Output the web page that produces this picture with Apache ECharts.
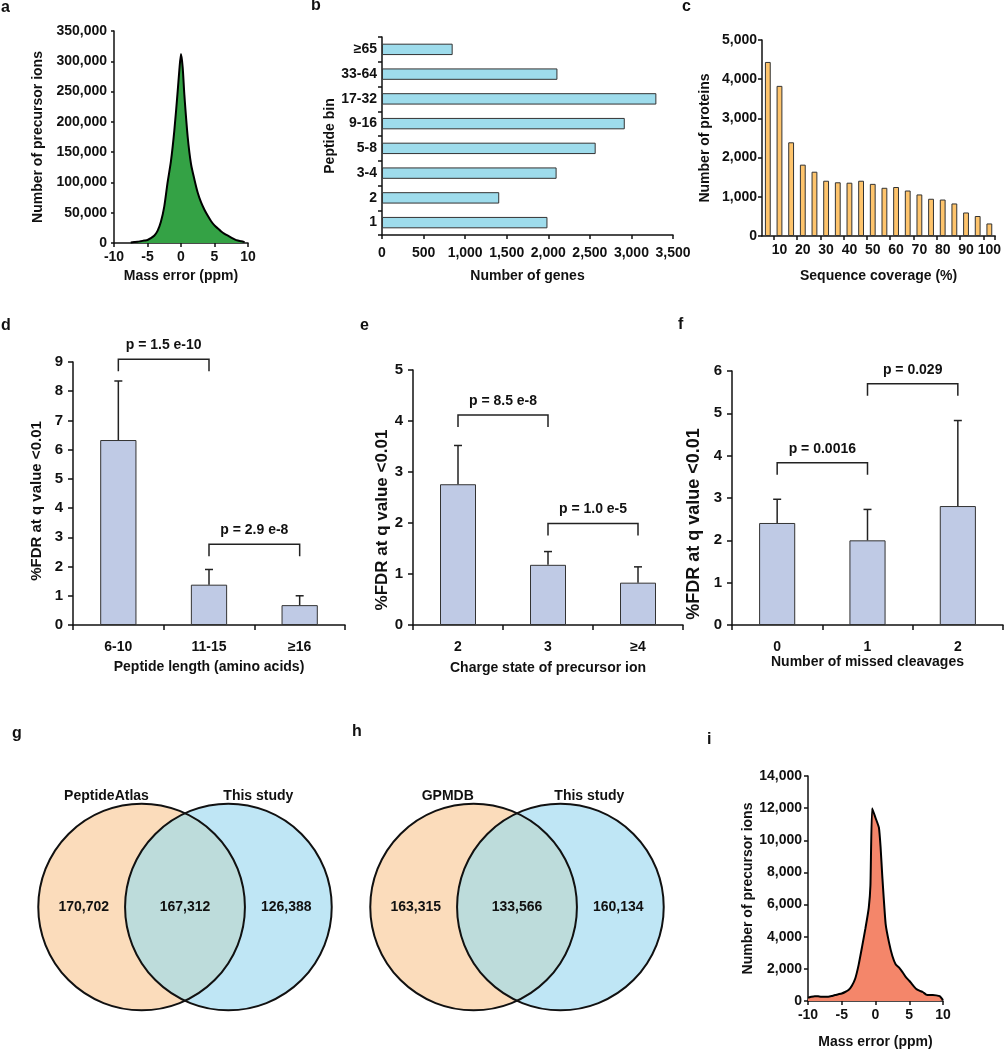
<!DOCTYPE html>
<html><head><meta charset="utf-8">
<script src="https://cdn.jsdelivr.net/npm/echarts@6/dist/echarts.min.js"></script>
<style>html,body{margin:0;padding:0;background:#fff}#c{width:1004px;height:1050px}</style>
</head><body><div id="c"></div>
<script>
// ---- panel a: mass error distribution ----
const aX = [-7.5,-7,-6.5,-6,-5.5,-5,-4.5,-4,-3.5,-3,-2.5,-2,-1.5,-1,-0.5,-0.25,0,0.25,0.5,1,1.5,2,2.5,3,3.5,4,4.5,5,5.5,6,6.5,7,7.5,8,8.5,9,9.5];
const aY = [1000,1500,2000,3000,4000,5000,8000,12000,20000,35000,60000,100000,135000,185000,250000,285000,312000,290000,245000,175000,130000,105000,83000,67000,55000,45000,36000,29000,24000,19000,15000,12000,9000,6000,4000,3000,1500];
// ---- panel b ----
const bCats = ['1','2','3-4','5-8','9-16','17-32','33-64','≥65'];
const bVals = [1990,1410,2100,2570,2920,3300,2110,850];
// ---- panel c ----
const cCats = ['5','10','15','20','25','30','35','40','45','50','55','60','65','70','75','80','85','90','95','100'];
const cVals = [4440,3830,2390,1820,1640,1410,1370,1360,1410,1330,1230,1250,1160,1060,950,930,830,600,510,320];
// ---- panels d, e, f ----
const dCats = ['6-10','11-15','≥16'];
const dVals = [6.33,1.38,0.68];
const dSd = [2.02,0.52,0.32];
const dBrackets = [[0,1,9.09,'p = 1.5 e-10'],[1,2,2.76,'p = 2.9 e-8']];
const eCats = ['2','3','≥4'];
const eVals = [2.76,1.18,0.83];
const eSd = [0.76,0.26,0.31];
const eBrackets = [[0,1,4.12,'p = 8.5 e-8'],[1,2,1.99,'p = 1.0 e-5']];
const fCats = ['0','1','2'];
const fVals = [2.41,2.0,2.81];
const fSd = [0.56,0.73,2.02];
const fBrackets = [[0,1,3.83,'p = 0.0016'],[1,2,5.70,'p = 0.029']];
// ---- panels g, h: Venn ----
const gSets = ['PeptideAtlas','This study'];
const gCounts = [170702,167312,126388];
const hSets = ['GPMDB','This study'];
const hCounts = [163315,133566,160134];
// ---- panel i ----
const iX = [-10,-9.5,-9,-8.5,-8,-7.5,-7,-6.5,-6,-5.5,-5,-4.5,-4,-3.5,-3,-2.5,-2,-1.5,-1,-0.75,-0.5,0,0.5,0.75,1,1.5,2,2.5,3,3.5,4,4.5,5,5.5,6,6.5,7,7.5,8,8.5,9,9.5,10];
const iY = [200,260,300,290,270,270,270,310,370,420,470,560,680,950,1400,2250,3350,4500,5800,7200,12000,11400,10800,9600,7800,4800,3650,2800,2270,2080,1800,1480,1260,1000,760,640,560,400,370,370,350,300,60];

const FONT = '"Liberation Sans", Arial, Helvetica, sans-serif';
const INK = '#111';
const fmt = v => Number(v).toLocaleString('en-US');
function lab(extra){ return Object.assign({color:INK,fontWeight:'bold',fontFamily:FONT,fontSize:14}, extra||{}); }
function axLine(){ return {show:true,onZero:false,lineStyle:{color:INK,width:1.5}}; }
function axTick(len){ return {show:true,length:len||4,lineStyle:{color:INK,width:1.5}}; }

const chart = echarts.init(document.getElementById('c'), null, {renderer:'canvas'});

const grids = [
  {left:114, top:31, width:134, height:212},   // a
  {left:382, top:37, width:291, height:198},   // b
  {left:762, top:40, width:234, height:196},   // c
  {left:73, top:362, width:272, height:263},   // d
  {left:413, top:370, width:270, height:255},  // e
  {left:732, top:371, width:271, height:254},  // f
  {left:30, top:764, width:310, height:310},   // g
  {left:362, top:764, width:310, height:310},  // h
  {left:808, top:776, width:135, height:225}   // i
];

function valueX(gi, min, max, interval, extra){
  return Object.assign({type:'value', gridIndex:gi, min, max, interval, splitLine:{show:false},
    axisLine:axLine(), axisTick:axTick(4), axisLabel:lab({margin:7})}, extra||{});
}
function valueY(gi, min, max, interval, extra){
  return Object.assign({type:'value', gridIndex:gi, min, max, interval, splitLine:{show:false},
    axisLine:axLine(), axisTick:axTick(4), axisLabel:lab({margin:7})}, extra||{});
}
const hiddenAx = gi => ({type:'value', gridIndex:gi, min:-1.5, max:1.5, show:false});

const xAxes = [
  valueX(0,-10,10,5,{name:'Mass error (ppm)',nameLocation:'middle',nameGap:26,nameTextStyle:lab()}),
  valueX(1,0,3500,500,{axisLabel:lab({margin:11,formatter:fmt}),name:'Number of genes',nameLocation:'middle',nameGap:34,nameTextStyle:lab()}),
  {type:'category',gridIndex:2,data:cCats,axisLine:axLine(),axisTick:{show:true,length:4,interval:(i)=>i%2===1,lineStyle:{color:INK,width:1.5}},
    axisLabel:lab({margin:7,interval:(i)=>i%2===1}),name:'Sequence coverage (%)',nameLocation:'middle',nameGap:33,nameTextStyle:lab()},
  {type:'category',gridIndex:3,data:dCats,axisLine:axLine(),axisTick:axTick(5),axisLabel:lab({margin:15}),
    name:'Peptide length (amino acids)',nameLocation:'middle',nameGap:35,nameTextStyle:lab()},
  {type:'category',gridIndex:4,data:eCats,axisLine:axLine(),axisTick:axTick(5),axisLabel:lab({margin:15}),
    name:'Charge state of precursor ion',nameLocation:'middle',nameGap:36,nameTextStyle:lab()},
  {type:'category',gridIndex:5,data:fCats,axisLine:axLine(),axisTick:axTick(5),axisLabel:lab({margin:15}),
    name:'Number of missed cleavages',nameLocation:'middle',nameGap:29,nameTextStyle:lab()},
  hiddenAx(6), hiddenAx(7),
  valueX(8,-10,10,5,{name:'Mass error (ppm)',nameLocation:'middle',nameGap:34,nameTextStyle:lab()})
];
const yAxes = [
  valueY(0,0,350000,50000,{axisTick:axTick(3),axisLabel:lab({margin:7,formatter:fmt}),name:'Number of precursor ions',nameLocation:'middle',nameRotate:90,nameGap:69,nameTextStyle:lab()}),
  {type:'category',gridIndex:1,data:bCats,axisLine:axLine(),axisTick:axTick(4),axisLabel:lab({margin:5}),
    name:'Peptide bin',nameLocation:'middle',nameRotate:90,nameGap:45,nameTextStyle:lab()},
  valueY(2,0,5000,1000,{axisLabel:lab({margin:5,formatter:fmt}),name:'Number of proteins',nameLocation:'middle',nameRotate:90,nameGap:50,nameTextStyle:lab()}),
  valueY(3,0,9,1,{axisTick:axTick(5),axisLabel:lab({margin:10,fontSize:15}),name:'%FDR at q value <0.01',nameLocation:'middle',nameRotate:90,nameGap:29,nameTextStyle:lab({fontSize:15,padding:[0,15,0,0]})}),
  valueY(4,0,5,1,{axisTick:axTick(5),axisLabel:lab({margin:10,fontSize:15}),name:'%FDR at q value <0.01',nameLocation:'middle',nameRotate:90,nameGap:22,nameTextStyle:lab({fontSize:17,padding:[0,45,0,0]})}),
  valueY(5,0,6,1,{axisTick:axTick(5),axisLabel:lab({margin:10,fontSize:15}),name:'%FDR at q value <0.01',nameLocation:'middle',nameRotate:90,nameGap:29,nameTextStyle:lab({fontSize:18,padding:[0,52,0,0]})}),
  hiddenAx(6), hiddenAx(7),
  valueY(8,0,14000,2000,{axisLabel:lab({margin:6,formatter:fmt}),name:'Number of precursor ions',nameLocation:'middle',nameRotate:90,nameGap:53,nameTextStyle:lab()})
];

const BAR_EDGE = {borderColor:'#333', borderWidth:1};
const series = [];
// a
series.push({type:'line', xAxisIndex:0, yAxisIndex:0, data:aX.map((x,i)=>[x,aY[i]]), smooth:0.25, symbol:'none',
  lineStyle:{color:'#000',width:2}, areaStyle:{color:'#34a245',opacity:1}});
// b
series.push({type:'bar', xAxisIndex:1, yAxisIndex:1, data:bVals, barWidth:'46%', itemStyle:Object.assign({color:'#9edcec'},BAR_EDGE)});
// c
series.push({type:'bar', xAxisIndex:2, yAxisIndex:2, data:cVals, barWidth:'50%', itemStyle:Object.assign({color:'#fec46c'},BAR_EDGE)});

function fdrSeries(ax, vals, sd, brackets){
  series.push({type:'bar', xAxisIndex:ax, yAxisIndex:ax, data:vals, barWidth:'40%', itemStyle:Object.assign({color:'#bfcae5'},BAR_EDGE)});
  series.push({type:'custom', xAxisIndex:ax, yAxisIndex:ax, z:3,
    data: vals.map((v,i)=>[i, v, v+sd[i]]),
    renderItem:(params, api)=>{
      const p0 = api.coord([api.value(0), api.value(1)]);
      const p1 = api.coord([api.value(0), api.value(2)]);
      const st = {stroke:'#222', lineWidth:1.5};
      return {type:'group', children:[
        {type:'line', shape:{x1:p0[0],y1:p0[1],x2:p1[0],y2:p1[1]}, style:st},
        {type:'line', shape:{x1:p1[0]-4,y1:p1[1],x2:p1[0]+4,y2:p1[1]}, style:st}
      ]};
    }});
  series.push({type:'custom', xAxisIndex:ax, yAxisIndex:ax, z:4, clip:false,
    data: brackets.map(b=>[b[0], b[2], b[1]]),
    renderItem:(params, api)=>{
      const b = brackets[params.dataIndex];
      const pa = api.coord([api.value(0), api.value(1)]);
      const pb = api.coord([api.value(2), api.value(1)]);
      const st = {stroke:'#222', lineWidth:1.5, fill:null};
      const leg = 12;
      return {type:'group', children:[
        {type:'polyline', shape:{points:[[pa[0],pa[1]+leg],[pa[0],pa[1]],[pb[0],pb[1]],[pb[0],pb[1]+leg]]}, style:st},
        {type:'text', style:{text:b[3], x:(pa[0]+pb[0])/2, y:pa[1]-14, textAlign:'center', textVerticalAlign:'middle',
          fill:INK, font:'bold 14px '+FONT}}
      ]};
    }});
}
fdrSeries(3, dVals, dSd, dBrackets);
fdrSeries(4, eVals, eSd, eBrackets);
fdrSeries(5, fVals, fSd, fBrackets);

// Venn layout (style constants, unit = circle radius)
const VENN_SEP = 0.42;
function vennSeries(ax, sets, counts, titleX){
  series.push({type:'custom', xAxisIndex:ax, yAxisIndex:ax, clip:false,
    data:[[-VENN_SEP,0],[VENN_SEP,0]],
    renderItem:(params, api)=>{
      if (params.dataIndex !== 0) return null;
      const L = api.coord([-VENN_SEP,0]);
      const R = api.coord([VENN_SEP,0]);
      const r = api.size([1,1])[0];
      const h = Math.sqrt(r*r - Math.pow((R[0]-L[0])/2,2));
      const mx = (L[0]+R[0])/2, cy = L[1];
      const lens = 'M'+mx+' '+(cy-h)+' A'+r+' '+r+' 0 0 1 '+mx+' '+(cy+h)+' A'+r+' '+r+' 0 0 1 '+mx+' '+(cy-h)+' Z';
      return {type:'group', children:[
        {type:'circle', shape:{cx:L[0],cy:cy,r:r}, style:{fill:'#fbdcbb'}},
        {type:'circle', shape:{cx:R[0],cy:cy,r:r}, style:{fill:'#bfe6f5'}},
        {type:'path', shape:{pathData:lens}, style:{fill:'#bddcdb'}},
        {type:'circle', shape:{cx:L[0],cy:cy,r:r}, style:{fill:null,stroke:'#111',lineWidth:2}},
        {type:'circle', shape:{cx:R[0],cy:cy,r:r}, style:{fill:null,stroke:'#111',lineWidth:2}}
      ]};
    }});
  // region counts (left only, both, right only) and set titles
  const textItems = [[-0.98,0,fmt(counts[0])],[0,0,fmt(counts[1])],[0.98,0,fmt(counts[2])],
                     [titleX[0],1.16,sets[0]],[titleX[1],1.16,sets[1]]];
  series.push({type:'custom', xAxisIndex:ax, yAxisIndex:ax, clip:false, z:5,
    data:textItems.map(t=>[t[0],t[1]]),
    renderItem:(params, api)=>{
      const p = api.coord([api.value(0), api.value(1)]);
      return {type:'text', style:{text:textItems[params.dataIndex][2], x:p[0], y:p[1], textAlign:'center', textVerticalAlign:'middle',
        fill:INK, font:'bold 14px '+FONT}};
    }});
}
vennSeries(6, gSets, gCounts, [-0.76,0.71]);
vennSeries(7, hSets, hCounts, [-0.67,0.70]);

// i
series.push({type:'line', xAxisIndex:8, yAxisIndex:8, data:iX.map((x,i)=>[x,iY[i]]), smooth:0.15, symbol:'none',
  lineStyle:{color:'#000',width:2}, areaStyle:{color:'#f4866a',opacity:1}});

const letters = [['a',1,9],['b',311,7],['c',682,8],['d',1,327],['e',360,327],['f',678,326],['g',12,735],['h',352,733],['i',707,741]];
const graphic = letters.map(l=>({type:'text', left:l[1], top:l[2]-9, silent:true,
  style:{text:l[0], fill:INK, font:'bold 16px '+FONT}}));

chart.setOption({
  animation:false,
  backgroundColor:'#fff',
  textStyle:{fontFamily:FONT},
  grid:grids, xAxis:xAxes, yAxis:yAxes, series, graphic
});
</script></body></html>
